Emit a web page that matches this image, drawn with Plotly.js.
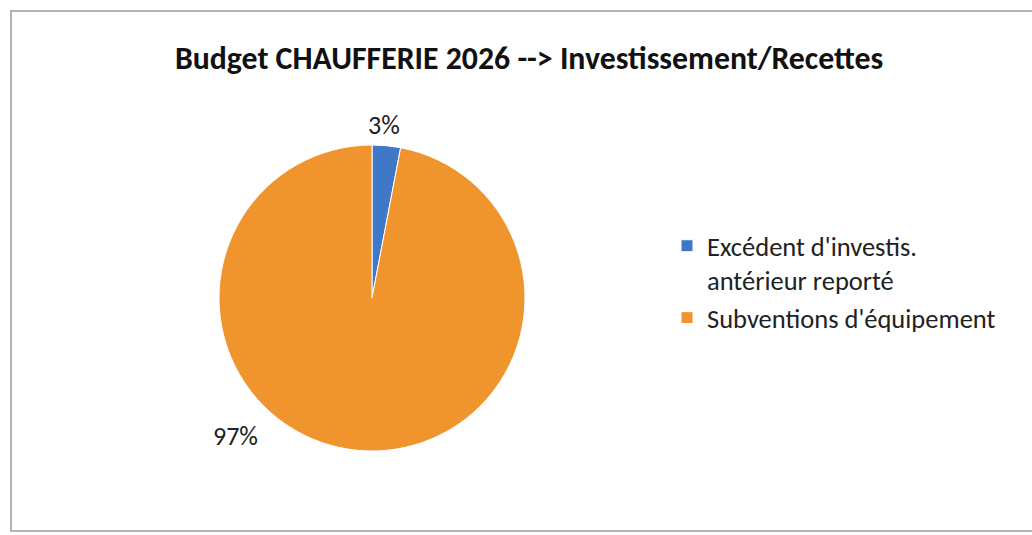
<!DOCTYPE html>
<html>
<head>
<meta charset="utf-8">
<script src="https://cdn.plot.ly/plotly-3.0.1.min.js"></script>
<style>html,body{margin:0;padding:0;background:#fff;}#chart{width:1032px;height:535px;}</style>
</head>
<body>
<div id="chart"></div>
<script>
const chartTitle = "Budget CHAUFFERIE 2026 --> Investissement/Recettes";
const categories = ["Excédent d'investis.<br>antérieur reporté", "Subventions d'équipement"];
const values = [3, 97];
const colors = ["#3F78C6", "#F0952D"];

const W = 1032, H = 535;
const total = values.reduce((a, b) => a + b, 0);
const pctText = values.map(v => Math.round(v / total * 100) + '%');
const labelPos = [[384, 125], [235, 436]];
const fontFam = "Carlito, 'Liberation Sans Narrow', 'Liberation Sans', Arial, sans-serif";

const trace = {
  type: 'pie',
  labels: categories,
  values: values,
  sort: false,
  direction: 'clockwise',
  rotation: 0,
  marker: {colors: colors, line: {color: '#ffffff', width: 1}},
  textinfo: 'none',
  hoverinfo: 'label+percent',
  domain: {x: [219 / W, 525 / W], y: [(H - 451) / H, (H - 145) / H]}
};

const annotations = pctText.map((t, i) => ({
  text: t, x: labelPos[i][0] / W, y: 1 - labelPos[i][1] / H,
  xref: 'paper', yref: 'paper', showarrow: false,
  xanchor: 'center', yanchor: 'middle',
  font: {family: fontFam, size: 26, color: '#222'}
}));

const layout = {
  width: W, height: H,
  margin: {l: 0, r: 0, t: 0, b: 0},
  paper_bgcolor: '#ffffff',
  title: {text: '<b>' + chartTitle + '</b>', x: 529 / W, xanchor: 'center', y: 1 - 58 / H, yanchor: 'middle',
          font: {family: fontFam, size: 31.8, color: '#111'}},
  showlegend: true,
  legend: {x: 667 / W, y: 1 - 222 / H, xanchor: 'left', yanchor: 'top', valign: 'top',
           font: {family: fontFam, size: 26.5, color: '#222'}, bgcolor: 'rgba(0,0,0,0)'},
  annotations: annotations,
  shapes: [{type: 'rect', xref: 'paper', yref: 'paper', x0: 11 / W, x1: 1.01, y0: 1 - 531 / H, y1: 1 - 11 / H,
            line: {color: '#9a9a9a', width: 1.5}, fillcolor: 'rgba(0,0,0,0)'}]
};

Plotly.newPlot('chart', [trace], layout, {displayModeBar: false, staticPlot: true});
</script>
</body>
</html>
